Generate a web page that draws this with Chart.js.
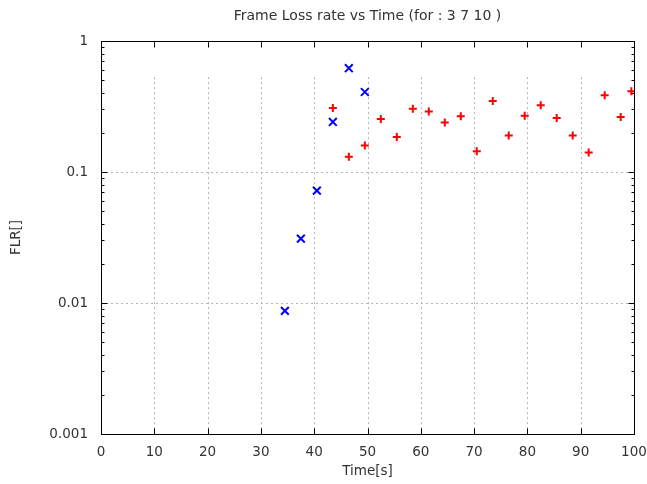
<!DOCTYPE html>
<html>
<head>
<meta charset="utf-8">
<script src="https://cdn.jsdelivr.net/npm/chart.js@4/dist/chart.umd.min.js"></script>
<style>
  html, body { margin: 0; padding: 0; background: #fff; }
  #wrap { width: 647px; height: 484px; }
</style>
</head>
<body>
<div id="wrap"><canvas id="flr"></canvas></div>
<script>
// values
const blueTimes = [34.5, 37.5, 40.5, 43.5, 46.5, 49.5];
const blueFlr = [0.0087, 0.031, 0.072, 0.241, 0.62, 0.408];

const redTimes = [43.5, 46.5, 49.5, 52.5, 55.5, 58.5, 61.5, 64.5, 67.5, 70.5,
  73.5, 76.5, 79.5, 82.5, 85.5, 88.5, 91.5, 94.5, 97.5, 99.5];
const redFlr = [0.308, 0.131, 0.159, 0.254, 0.185, 0.304, 0.29, 0.239, 0.266, 0.144,
  0.348, 0.19, 0.269, 0.323, 0.258, 0.19, 0.141, 0.385, 0.263, 0.413];

const yTicks = [0.001, 0.01, 0.1, 1];
const xTicks = [0, 10, 20, 30, 40, 50, 60, 70, 80, 90, 100];

const toPoints = (xs, ys) => xs.map((x, i) => ({ x: x, y: ys[i] }));

const FONT = "'DejaVu Sans', sans-serif";
const TEXT = "#333333";

// gnuplot-like frame, dotted grid and inward ticks
const framePlugin = {
  id: "frame",
  beforeDatasetsDraw(chart) {
    const { ctx, chartArea: a, scales } = chart;
    const xs = scales.x, ys = scales.y;
    ctx.save();
    ctx.lineWidth = 1;

    // dotted grid
    ctx.strokeStyle = "#b4b4b4";
    ctx.setLineDash([2, 3]);
    const gridTop = ys.getPixelForValue(0.53);
    xTicks.slice(1, -1).forEach(v => {
      const px = Math.round(xs.getPixelForValue(v)) + 0.5;
      ctx.beginPath();
      ctx.moveTo(px, gridTop);
      ctx.lineTo(px, a.bottom);
      ctx.stroke();
    });
    yTicks.slice(1, -1).forEach(v => {
      const py = Math.round(ys.getPixelForValue(v)) + 0.5;
      ctx.beginPath();
      ctx.moveTo(a.left, py);
      ctx.lineTo(a.right, py);
      ctx.stroke();
    });
    ctx.setLineDash([]);

    // frame
    ctx.strokeStyle = "#000";
    const l = Math.round(a.left) + 0.5, r = Math.round(a.right) + 0.5;
    const t = Math.round(a.top) + 0.5, b = Math.round(a.bottom) + 0.5;
    ctx.strokeRect(l, t, r - l, b - t);

    // x ticks, bottom and top
    ctx.beginPath();
    xTicks.forEach(v => {
      const px = Math.round(xs.getPixelForValue(v)) + 0.5;
      ctx.moveTo(px, b); ctx.lineTo(px, b - 6);
      ctx.moveTo(px, t); ctx.lineTo(px, t + 6);
    });
    // y ticks, major and log minor, left and right
    for (let d = 0; d < yTicks.length; d++) {
      const dec = yTicks[d];
      for (let m = 1; m <= 9; m++) {
        const v = dec * m;
        if (v > 1.0001) break;
        const py = Math.round(ys.getPixelForValue(v)) + 0.5;
        const len = m === 1 ? 6 : 3;
        ctx.moveTo(l, py); ctx.lineTo(l + len, py);
        ctx.moveTo(r, py); ctx.lineTo(r - len, py);
      }
    }
    ctx.stroke();
    ctx.restore();
  }
};

new Chart(document.getElementById("flr"), {
  type: "scatter",
  data: {
    datasets: [
      {
        label: "3",
        data: toPoints(blueTimes, blueFlr),
        pointStyle: "crossRot",
        radius: 5.5,
        borderColor: "#0000ff",
        backgroundColor: "#0000ff",
        borderWidth: 2
      },
      {
        label: "7 10",
        data: toPoints(redTimes, redFlr),
        pointStyle: "cross",
        radius: 4,
        borderColor: "#ff0000",
        backgroundColor: "#ff0000",
        borderWidth: 2
      }
    ]
  },
  options: {
    responsive: true,
    maintainAspectRatio: false,
    animation: false,
    layout: { padding: { top: 0, right: 13, bottom: 0, left: 0 } },
    plugins: {
      legend: { display: false },
      tooltip: { enabled: false },
      title: {
        display: true,
        text: "Frame Loss rate vs Time (for : 3 7 10 )",
        fullSize: false,
        color: TEXT,
        font: { family: FONT, size: 14, weight: "normal" },
        padding: { top: 8, bottom: 16.2 }
      }
    },
    scales: {
      x: {
        type: "linear",
        min: 0,
        max: 100,
        ticks: {
          stepSize: 10,
          color: TEXT,
          font: { family: FONT, size: 13.5 },
          padding: 10,
          maxRotation: 0
        },
        afterBuildTicks: s => { s.ticks = xTicks.map(v => ({ value: v })); },
        afterFit: s => {
          s.height = 50;
          s.paddingLeft = 0;
          s.paddingRight = 0;
        },
        grid: { display: false, drawTicks: false },
        border: { display: false },
        title: {
          display: true,
          text: "Time[s]",
          color: TEXT,
          font: { family: FONT, size: 13.5 },
          padding: { top: 4, bottom: 4 }
        }
      },
      y: {
        type: "logarithmic",
        min: 0.001,
        max: 1,
        ticks: {
          color: TEXT,
          font: { family: FONT, size: 13.5 },
          padding: 13,
          callback: v => String(v)
        },
        afterBuildTicks: s => { s.ticks = yTicks.map(v => ({ value: v, major: true })); },
        afterFit: s => {
          s.width = 101;
          s.paddingTop = 0;
          s.paddingBottom = 0;
        },
        grid: { display: false, drawTicks: false },
        border: { display: false },
        title: {
          display: true,
          text: "FLR[]",
          color: TEXT,
          font: { family: FONT, size: 13.5 },
          padding: { top: 8, bottom: 0 }
        }
      }
    }
  },
  plugins: [framePlugin]
});
</script>
</body>
</html>
